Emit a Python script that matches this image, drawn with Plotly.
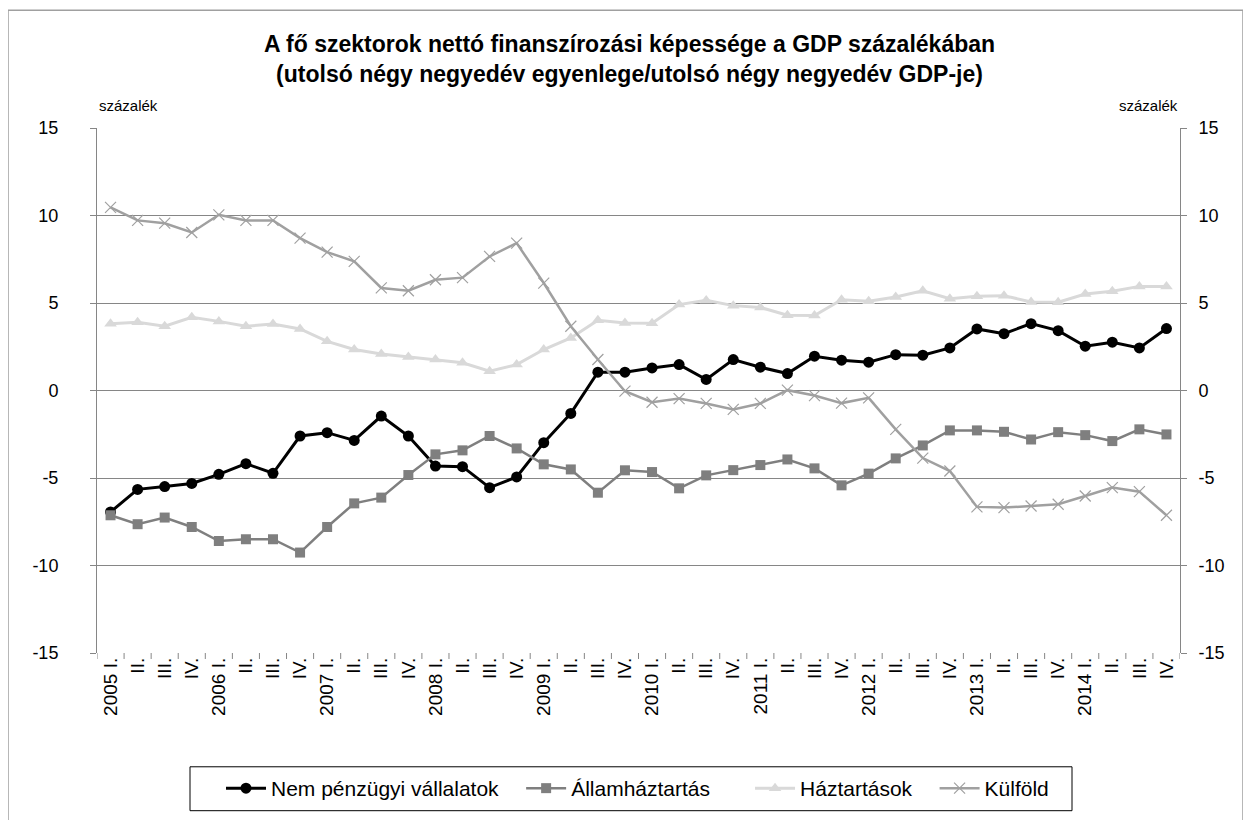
import plotly.graph_objects as go

years = ["2005", "2006", "2007", "2008", "2009", "2010", "2011", "2012", "2013", "2014"]
quarters = ["I.", "II.", "III.", "IV."]
tick_labels = [f"{y} {q}" if q == "I." else q for y in years for q in quarters]
cat_ids = list(range(len(tick_labels)))

nem_penzugyi = [-6.94, -5.65, -5.49, -5.31, -4.79, -4.18, -4.73, -2.60, -2.41, -2.85,
                -1.46, -2.60, -4.32, -4.35, -5.55, -4.94, -2.98, -1.31, 1.05, 1.05,
                1.29, 1.48, 0.63, 1.77, 1.33, 0.97, 1.96, 1.73, 1.62, 2.05,
                2.02, 2.43, 3.52, 3.25, 3.82, 3.42, 2.53, 2.76, 2.43, 3.54]
allamhaztartas = [-7.13, -7.64, -7.26, -7.80, -8.60, -8.50, -8.50, -9.26, -7.80, -6.45,
                  -6.12, -4.83, -3.65, -3.42, -2.60, -3.31, -4.22, -4.51, -5.84, -4.56,
                  -4.66, -5.59, -4.85, -4.55, -4.26, -3.94, -4.45, -5.42, -4.75, -3.88,
                  -3.14, -2.28, -2.28, -2.36, -2.80, -2.38, -2.55, -2.89, -2.22, -2.51]
haztartasok = [3.82, 3.90, 3.67, 4.18, 3.95, 3.67, 3.80, 3.52, 2.81, 2.34,
               2.09, 1.92, 1.77, 1.58, 1.10, 1.48, 2.34, 3.00, 4.01, 3.86,
               3.84, 4.91, 5.15, 4.85, 4.75, 4.30, 4.28, 5.19, 5.10, 5.34,
               5.70, 5.25, 5.38, 5.42, 5.06, 5.04, 5.51, 5.67, 5.95, 5.95]
kulfold = [10.46, 9.72, 9.56, 9.03, 10.04, 9.72, 9.72, 8.71, 7.91, 7.38,
           5.86, 5.70, 6.33, 6.45, 7.66, 8.42, 6.14, 3.67, 1.77, -0.04,
           -0.67, -0.46, -0.74, -1.08, -0.74, 0.02, -0.29, -0.72, -0.42, -2.22,
           -3.86, -4.60, -6.65, -6.69, -6.60, -6.50, -6.03, -5.55, -5.78, -7.13]

y_ticks = [-15, -10, -5, 0, 5, 10, 15]
y_tick_text = ["-15", "-10", "-5", "0", "5", "10", "15"]

FONT = "Liberation Sans, Arial, sans-serif"
OFF = 8  # page body margin offset
W, H = 1251 - OFF, 820 - OFF
L, R, T, B = 97 - OFF, 1180 - OFF, 128 - OFF, 654 - OFF
NB = "\u00a0"

fig = go.Figure()
fig.add_trace(go.Scatter(x=cat_ids, y=nem_penzugyi, name="Nem pénzügyi vállalatok" + NB * 3,
                         mode="lines+markers", line=dict(color="black", width=3),
                         marker=dict(symbol="circle", size=11, color="black")))
fig.add_trace(go.Scatter(x=cat_ids, y=allamhaztartas, name="Államháztartás" + NB * 6,
                         mode="lines+markers", line=dict(color="#7f7f7f", width=2.5),
                         marker=dict(symbol="square", size=10, color="#7f7f7f")))
fig.add_trace(go.Scatter(x=cat_ids, y=haztartasok, name="Háztartások" + NB * 3,
                         mode="lines+markers", line=dict(color="#d9d9d9", width=3),
                         marker=dict(symbol="triangle-up", size=11, color="#d9d9d9")))
fig.add_trace(go.Scatter(x=cat_ids, y=kulfold, name="Külföld",
                         mode="lines+markers", line=dict(color="#a0a0a0", width=2.5),
                         marker=dict(symbol="x-thin-open", size=11,
                                     line=dict(color="#a0a0a0", width=1.2))))
fig.add_trace(go.Scatter(x=[cat_ids[0]], y=[0], yaxis="y2", showlegend=False,
                         mode="markers", marker=dict(opacity=0), hoverinfo="skip"))


def px_x(p):
    return (p - OFF - L) / (R - L)


def px_y(p):
    return (B - (p - OFF)) / (B - T)


fig.update_layout(
    width=W, height=H,
    margin=dict(l=L, r=W - R, t=T, b=H - B),
    paper_bgcolor="white", plot_bgcolor="white",
    font=dict(family=FONT, size=16, color="black"),
    title=dict(text="<b>A fő szektorok nettó finanszírozási képessége a GDP százalékában<br>"
                    "(utolsó négy negyedév egyenlege/utolsó négy negyedév GDP-je)</b>",
               x=0.5, xanchor="center", y=1 - 44 / H, yanchor="top",
               font=dict(family=FONT, size=23, color="black")),
    xaxis=dict(range=[-0.5, len(cat_ids) - 0.5], tickmode="array", tickvals=cat_ids,
               ticktext=tick_labels, tickangle=-90, showgrid=False, zeroline=False,
               showline=False, ticks="", tickfont=dict(size=19), fixedrange=True),
    yaxis=dict(range=[-15, 15], tickvals=y_ticks, ticktext=y_tick_text, showgrid=True,
               gridcolor="#868686", gridwidth=1, zeroline=False, showline=True,
               linecolor="#868686", linewidth=1, ticks="outside", ticklen=6,
               tickcolor="#868686", tickfont=dict(size=18), ticklabelstandoff=28),
    yaxis2=dict(range=[-15, 15], tickvals=y_ticks, ticktext=y_tick_text, overlaying="y",
                side="right", showgrid=False, zeroline=False, showline=True,
                linecolor="#868686", linewidth=1, ticks="outside", ticklen=6,
                tickcolor="#868686", tickfont=dict(size=18), ticklabelstandoff=8),
    legend=dict(orientation="h", x=px_x(221), xanchor="left",
                y=px_y(768), yanchor="top", borderwidth=0, bgcolor="rgba(0,0,0,0)",
                font=dict(size=21), itemwidth=40, traceorder="normal"),
    showlegend=True,
)

# x tick marks at category boundaries
for i in range(len(cat_ids) + 1):
    bx = i - 0.5
    fig.add_shape(type="line", xref="x", yref="paper", x0=bx, x1=bx,
                  y0=0, y1=-6 / (B - T), line=dict(color="#868686", width=1))

# axis titles
fig.add_annotation(text="százalék", xref="paper", yref="paper", x=0, y=1 + 12 / (B - T),
                   xanchor="left", yanchor="bottom", showarrow=False, font=dict(size=15))
fig.add_annotation(text="százalék", xref="paper", yref="paper", x=1, y=1 + 12 / (B - T),
                   xanchor="right", yanchor="bottom", showarrow=False, font=dict(size=15))

# legend box
fig.add_shape(type="rect", xref="paper", yref="paper", x0=px_x(190), x1=px_x(1072),
              y0=px_y(812), y1=px_y(768), line=dict(color="black", width=1),
              fillcolor="rgba(0,0,0,0)")

# outer chart border
fig.add_shape(type="rect", xref="paper", yref="paper", x0=px_x(8), x1=px_x(1243),
              y0=px_y(840), y1=px_y(10), line=dict(color="#a0a0a0", width=1.5),
              fillcolor="rgba(0,0,0,0)", layer="below")

fig.write_html("out.html")
